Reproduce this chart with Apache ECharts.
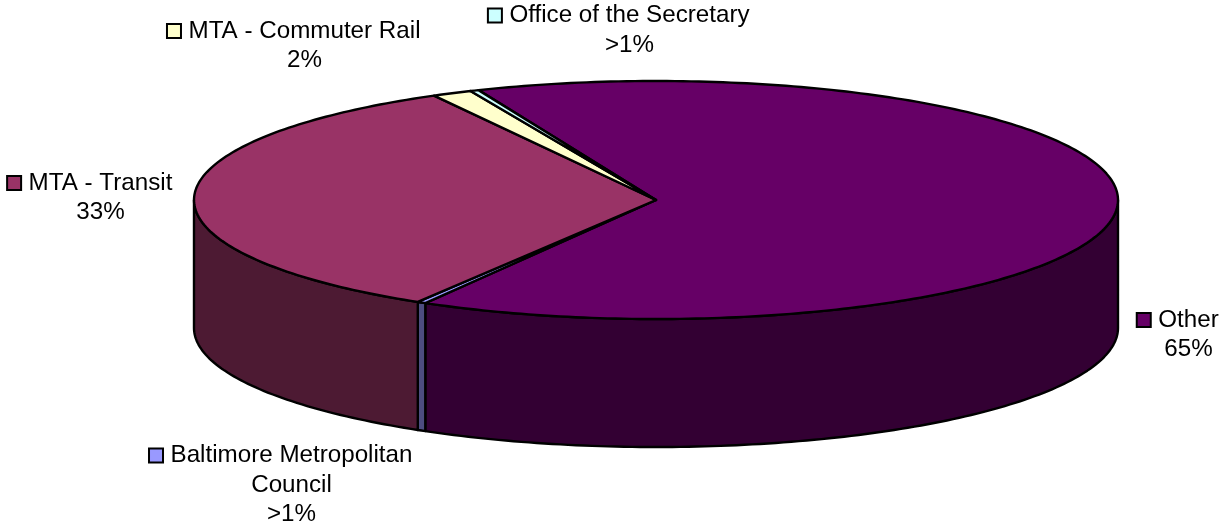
<!DOCTYPE html>
<html><head><meta charset="utf-8">
<style>html,body{margin:0;padding:0;background:#fff}#c{width:1220px;height:526px}</style>
<script src="https://cdn.jsdelivr.net/npm/echarts@6/dist/echarts.min.js"></script>
</head><body><div id="c"></div>
<script>
// Data, clockwise from the slice boundary at the back of the pie
const categories = ['Other', 'Baltimore Metropolitan Council', 'MTA - Transit', 'MTA - Commuter Rail', 'Office of the Secretary'];
const shares = [64.6, 0.3, 33.4, 1.4, 0.3];
const percentLabels = ['65%', '>1%', '33%', '2%', '>1%'];
const topColors = ['#660066', '#9999ff', '#993366', '#ffffcc', '#ccffff'];
const sideColors = ['#330033', '#4d4d80', '#4d1a33', '#808066', '#668080'];

// Layout of the tilted pie, in pixels
const CX = 656, CY = 200, RX = 462, RY = 119, DEPTH = 128, START_DEG = -22.6;
// Label anchors: centre x of the text, centre y of the first line
const labelLines = [['Other'], ['Baltimore Metropolitan', 'Council'], ['MTA - Transit'], ['MTA - Commuter Rail'], ['Office of the Secretary']];
const labelAnchors = [[1188.5, 320], [291.5, 455.5], [100.5, 183], [304.5, 31], [629.5, 15.5]];
const FONT = '24.2px "Liberation Sans", Arial, sans-serif';
const LINE_H = 29.6;

const total = shares.reduce((a, b) => a + b, 0);
const pt = (deg, dy) => {
  const r = deg * Math.PI / 180;
  return [CX + RX * Math.sin(r), CY - RY * Math.cos(r) + (dy || 0)];
};
const arc = (a, b, dy) => {
  const out = [], n = Math.max(2, Math.ceil(Math.abs(b - a)));
  for (let i = 0; i <= n; i++) out.push(pt(a + (b - a) * i / n, dy));
  return out;
};
const sliceStart = i => START_DEG + shares.slice(0, i).reduce((a, b) => a + b, 0) / total * 360;

function textWidth(s) {
  const c = document.createElement('canvas').getContext('2d');
  c.font = FONT;
  return c.measureText(s).width;
}

function renderItem(params, api) {
  const i = params.dataIndex;
  const share = api.value(1);
  const a = sliceStart(i), b = a + share / total * 360;
  const kids = [];
  const line = { stroke: '#000', lineWidth: 2.4, lineJoin: 'round' };
  // visible part of the outer wall lies between 90 and 270 degrees
  const wa = Math.max(a, 90), wb = Math.min(b, 270);
  if (wb > wa) {
    const top = arc(wa, wb, 0), bottom = arc(wb, wa, DEPTH);
    kids.push({ type: 'polygon', shape: { points: top.concat(bottom) }, style: Object.assign({ fill: sideColors[i] }, line) });
  }
  kids.push({ type: 'polygon', shape: { points: [[CX, CY]].concat(arc(a, b, 0)) }, style: Object.assign({ fill: topColors[i] }, line) });
  return { type: 'group', children: kids };
}

function renderLabel(params, api) {
  const i = params.dataIndex;
  const [x, y] = labelAnchors[i];
  const lines = labelLines[i].concat(percentLabels[i]);
  const kids = lines.map((t, k) => ({
    type: 'text',
    style: { x, y: y + k * LINE_H, text: t, font: FONT, fill: '#000', align: 'center', verticalAlign: 'middle' }
  }));
  const w = textWidth(lines[0]);
  kids.push({ type: 'rect', shape: { x: x - w / 2 - 21.5, y: y - 7, width: 14, height: 14 },
    style: { fill: topColors[i], stroke: '#000', lineWidth: 2 } });
  return { type: 'group', children: kids };
}

const data = categories.map((c, i) => [c, shares[i]]);
const chart = echarts.init(document.getElementById('c'), null, { renderer: 'canvas' });
chart.setOption({
  animation: false,
  backgroundColor: '#fff',
  series: [
    { type: 'custom', coordinateSystem: 'none', renderItem, data, encode: { itemName: 0, value: 1 }, silent: true },
    { type: 'custom', coordinateSystem: 'none', renderItem: renderLabel, data, silent: true }
  ]
});
</script></body></html>
